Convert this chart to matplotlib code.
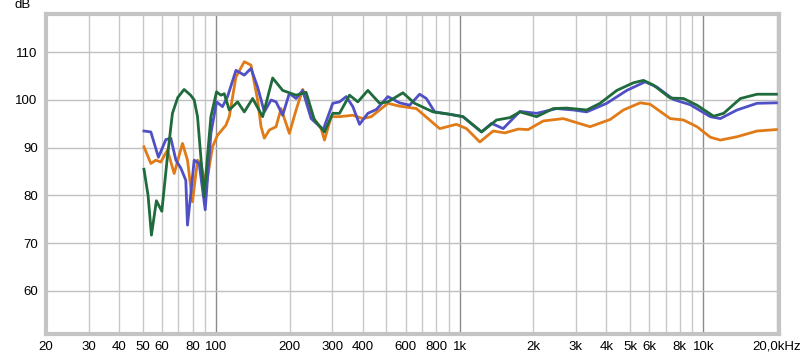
import matplotlib
matplotlib.use("Agg")
import matplotlib.pyplot as plt
import numpy as np

# ---- data (frequency in Hz, level in dB) ----
green_f = [50.5, 52.5, 54.2, 56.8, 59.8, 63.0, 66.1, 69.5, 73.8, 78.5, 81.2, 83.8, 86.5, 89.2, 92.0,
           95.1, 100.3, 104.5, 107.9, 113.1, 122.4, 130.4, 141.1, 155.1, 170.5, 187.4, 212.8, 233.9,
           253.1, 278.3, 301.0, 320.8, 352.7, 381.5, 419.5, 468.8, 507, 584.3, 652.8, 776.4, 909.6,
           1031, 1229, 1416, 1606, 1766, 2069, 2421, 2749, 3322, 3768, 4415, 5167, 5681, 6246, 7316,
           8297, 9421, 11030, 12120, 14200, 16630, 19970]
green_db = [85.5, 80.0, 71.7, 78.9, 76.7, 88.0, 97.2, 100.5, 102.2, 101.0, 100.0, 96.5, 88.0, 79.7, 88.0,
            96.5, 101.7, 101.0, 101.3, 97.9, 99.6, 97.5, 100.3, 96.5, 104.6, 102.0, 101.0, 101.6,
            95.8, 93.3, 97.2, 97.2, 101.0, 99.6, 102.0, 99.3, 99.6, 101.5, 99.3, 97.5, 97.0,
            96.5, 93.3, 95.8, 96.3, 97.5, 96.5, 98.2, 98.3, 97.9, 99.3, 102.0, 103.6, 104.1, 103.1, 100.4,
            100.3, 98.9, 96.6, 97.2, 100.3, 101.2, 101.2]

blue_f = [50.5, 53.9, 57.9, 62.1, 65.1, 68.3, 71.6, 75.0, 76.2, 78.5, 81.2, 85.1, 90.1, 95.1, 100.3,
          106.1, 111.3, 120.5, 130.4, 138.9, 147.9, 157.6, 168.0, 176.1, 187.4, 199.7, 212.8, 226.5,
          245.3, 275.0, 301.0, 320.8, 341.8, 363.9, 387.7, 419.5, 454.3, 507, 566.3, 622.5, 684.5,
          729.4, 789.0, 909.6, 1031, 1229, 1351, 1508, 1766, 2069, 2500, 2927, 3322, 4015, 4853, 5773,
          6450, 7548, 8843, 10690, 11750, 13760, 16630, 19970]
blue_db = [93.5, 93.3, 88.0, 91.7, 92.0, 87.4, 85.7, 83.2, 73.8, 80.0, 87.4, 86.7, 77.0, 93.0, 99.6,
           98.6, 100.7, 106.2, 105.2, 106.6, 102.7, 97.5, 100.0, 99.6, 96.8, 101.4, 100.3, 102.0,
           96.1, 93.8, 99.3, 99.6, 100.7, 98.6, 94.9, 97.2, 98.0, 100.7, 99.4, 98.9, 101.2,
           100.3, 97.5, 97.0, 96.5, 93.3, 95.1, 94.0, 97.6, 97.2, 98.2, 97.9, 97.5, 99.3, 102.0, 103.8,
           102.7, 100.1, 99.0, 96.5, 96.1, 97.9, 99.3, 99.4]

orange_f = [50.5, 53.9, 56.5, 59.2, 63.05, 67.2, 72.7, 76.2, 79.9, 83.8, 86.5, 90.7, 96.6, 101.2, 109.6,
            113.1, 120.5, 130.4, 138.9, 147.9, 152.8, 157.6, 165.2, 176.1, 184.6, 199.7, 212.8, 226.5,
            249.0, 269.8, 278.3, 296.5, 320.8, 363.9, 400.0, 433.2, 507, 566.3, 663.4, 752.5, 827.3,
            969.2, 1066, 1209, 1371, 1532, 1737, 1910, 2202, 2661, 3428, 4143, 4699, 5506, 6053, 7316,
            8297, 9421, 10690, 11750, 13760, 16630, 19970]
orange_db = [90.2, 86.7, 87.4, 87.0, 89.5, 84.6, 90.9, 87.4, 78.7, 87.4, 86.7, 81.8, 90.2, 92.6, 94.7,
             96.5, 104.8, 108.0, 107.3, 100.0, 94.4, 92.0, 93.7, 94.4, 98.2, 93.0, 97.9, 102.2,
             96.5, 94.0, 91.6, 96.5, 96.5, 96.8, 96.1, 96.5, 99.3, 98.7, 98.2, 95.8, 94.0,
             94.9, 94.0, 91.2, 93.5, 93.1, 93.9, 93.8, 95.6, 96.1, 94.4, 95.9, 97.9, 99.4, 99.1, 96.1,
             95.8, 94.4, 92.2, 91.6, 92.3, 93.5, 93.8]

x_ticks = [20, 30, 40, 50, 60, 80, 100, 200, 300, 400, 600, 800, 1000, 2000, 3000, 4000, 5000,
           6000, 8000, 10000, 20000]
x_tick_labels = ["20", "30", "40", "50", "60", "80", "100", "200", "300", "400", "600", "800", "1k",
                 "2k", "3k", "4k", "5k", "6k", "8k", "10k", "20,0kHz"]
y_ticks = [60, 70, 80, 90, 100, 110]

plt.rcParams['font.family'] = ['Liberation Sans', 'DejaVu Sans']

fig = plt.figure(figsize=(8.0, 3.55), dpi=100)
ax = fig.add_axes([0.0575, 0.0592, 0.9165, 0.9014])
ax.set_xscale('log')
ax.set_xlim(20, 20500)
ax.set_ylim(51, 118)

# grid
minor_lines = []
for dec in [10, 100, 1000, 10000]:
    for m in range(2, 10):
        v = dec * m
        if 20 < v < 20500:
            minor_lines.append(v)
for v in minor_lines:
    ax.axvline(v, color='#c8c8c8', lw=1.0, zorder=0)
for v in [100, 1000, 10000]:
    ax.axvline(v, color='#8a8a8a', lw=1.0, zorder=0)
for v in y_ticks:
    ax.axhline(v, color='#c0c0c0', lw=1.0, zorder=0)

ax.plot(orange_f, orange_db, color='#e07b18', lw=2.0, zorder=3, solid_joinstyle='round')
ax.plot(blue_f, blue_db, color='#5050c6', lw=2.0, zorder=4, solid_joinstyle='round')
ax.plot(green_f, green_db, color='#1f6b3c', lw=2.0, zorder=5, solid_joinstyle='round')

ax.set_xticks(x_ticks)
ax.set_xticklabels(x_tick_labels)
ax.xaxis.set_minor_locator(matplotlib.ticker.NullLocator())
ax.set_yticks(y_ticks)
ax.tick_params(axis='both', length=0, labelsize=9.5, colors='#000000')
ax.tick_params(axis='x', pad=5)
ax.tick_params(axis='y', pad=6)

for s in ax.spines.values():
    s.set_color('#c4c4c4')
    s.set_linewidth(3)

fig.text(23 / 800, 1 - 5 / 355, "dB", ha='center', va='center', fontsize=9.5)

fig.savefig("out.png", dpi=100)
